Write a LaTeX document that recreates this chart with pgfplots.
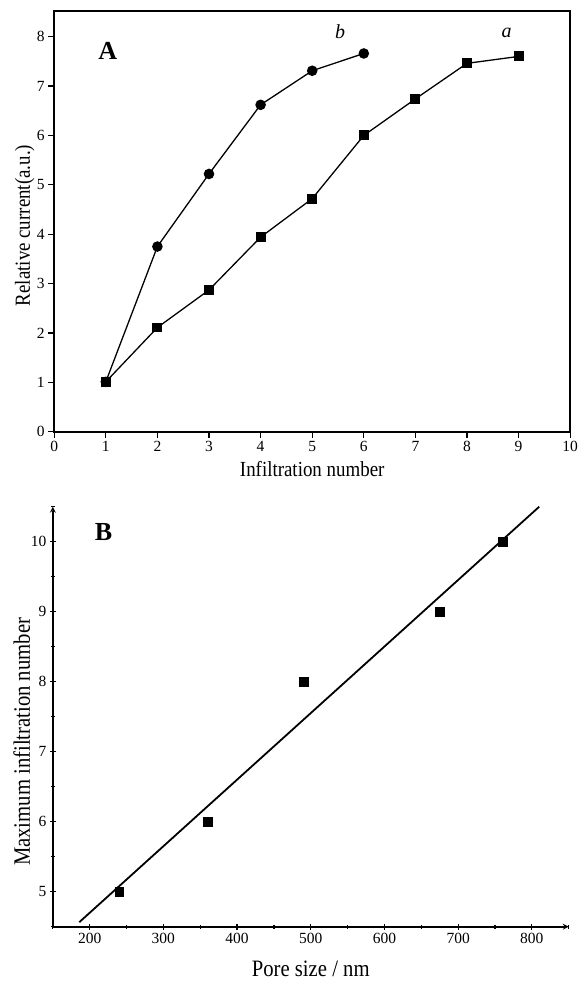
\documentclass[border=0pt]{standalone}
\usepackage{fontspec}
\setmainfont{Liberation Serif}
\newfontfamily\labelfont{Liberation Serif}[FakeStretch=0.88]
\usepackage{pgfplots}
\pgfplotsset{compat=1.18}
\begin{document}
\begin{tikzpicture}[x=1pt,y=1pt]
\useasboundingbox (0,0) rectangle (579,-981);
\pgfplotsset{
 common/.style={
  scale only axis,
  clip=false,
  /pgf/number format/assume math mode=true,
  tick label style={font=\fontsize{15.5}{18}\selectfont},
  axis line style={-, line width=1.6pt},
  x axis line style={-},
  y axis line style={-},
  inner axis line style={-},
  outer axis line style={-},
  tick style={line width=1.2pt, black},
  tick align=outside,
  major tick length=6pt,
  minor tick length=4pt,
 }
}
% ---------- Panel A ----------
\begin{axis}[common,
  at={(54.2pt,-431.7pt)}, anchor=south west,
  width=516pt, height=420.7pt,
  xmin=0, xmax=10, ymin=0, ymax=8.52,
  xtick={0,...,10}, ytick={0,...,8},
  xtick pos=bottom, ytick pos=left,
  xlabel={Infiltration number},
  ylabel={Relative current(a.u.)},
  label style={font=\labelfont\fontsize{21.5}{24}\selectfont},
  xlabel style={at={(axis description cs:0.5,-0.107)}, anchor=base},
  ylabel style={at={(axis description cs:-0.0469,0.49)}, anchor=base},
]
\addplot[black, line width=1.3pt, mark=square*, mark size=4.3pt, mark options={solid}]
 coordinates {(1,1.01)(2,2.11)(3,2.87)(4,3.94)(5,4.72)(6,6.0)(7,6.74)(8,7.46)(9,7.6)};
\addplot[black, line width=1.3pt, mark=*, mark size=4.6pt, mark options={solid}]
 coordinates {(1,1.01)(2,3.75)(3,5.22)(4,6.62)(5,7.31)(6,7.66)};
\node[font=\bfseries\fontsize{26}{30}\selectfont] at (axis cs:1.04,7.71) {A};
\node[font=\itshape\fontsize{20}{24}\selectfont] at (axis cs:5.54,8.10) {b};
\node[font=\itshape\fontsize{20}{24}\selectfont] at (axis cs:8.77,8.07) {a};
\end{axis}
% ---------- Panel B ----------
\begin{axis}[common,
  at={(52.8pt,-926.7pt)}, anchor=south west,
  width=515.9pt, height=420pt,
  axis lines=left,
  xmin=150, xmax=850, ymin=4.5, ymax=10.5,
  xtick={200,300,...,800}, ytick={5,...,10},
  minor xtick={150,250,...,850}, minor ytick={4.5,5.5,...,10.5},
  xlabel={Pore size / nm},
  ylabel={Maximum infiltration number},
  label style={font=\labelfont\fontsize{23.5}{26}\selectfont},
  xlabel style={at={(axis description cs:0.5,-0.118)}, anchor=base},
  ylabel style={at={(axis description cs:-0.0442,0.44)}, anchor=base},
]
\addplot[black, line width=1.8pt, no marks] coordinates {(186,4.565)(810,10.5)};
\addplot[black, only marks, mark=square*, mark size=4.4pt]
 coordinates {(240,5)(360,6)(490,8)(675,9)(760,10)};
\node[font=\bfseries\fontsize{26}{30}\selectfont] at (axis cs:219,10.14) {B};
\end{axis}
\end{tikzpicture}
\end{document}
